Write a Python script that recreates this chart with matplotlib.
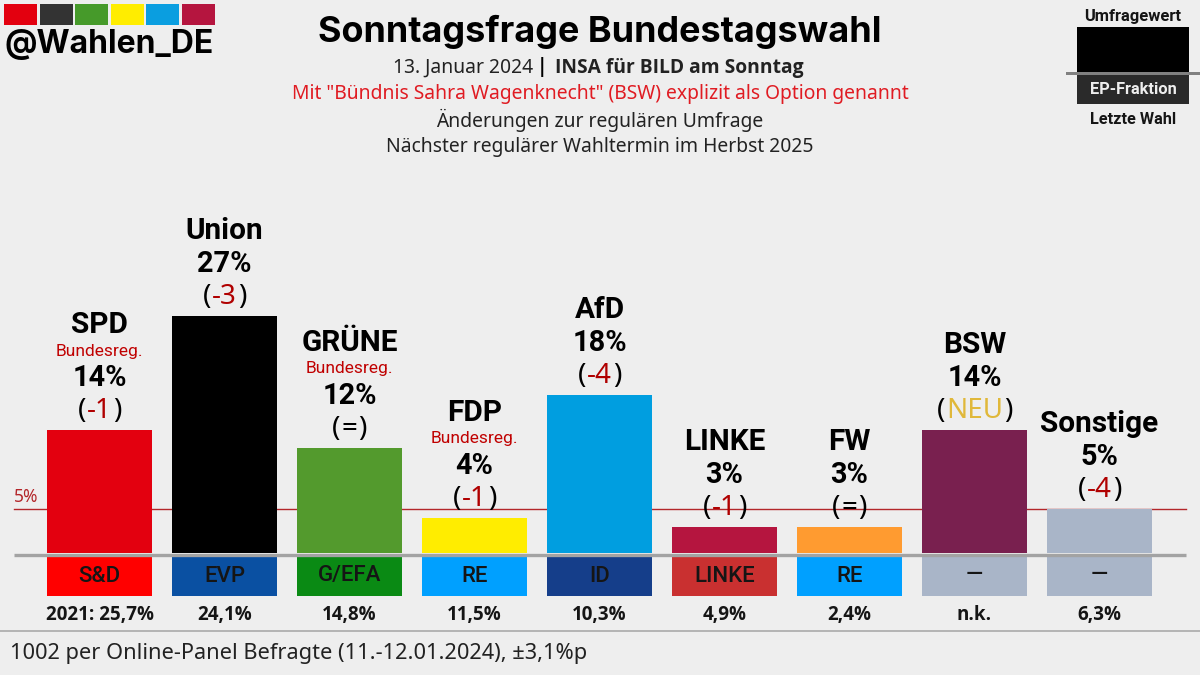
"""
Sonntagsfrage poll card, bars in percent on a full-figure axes,
all the decoration placed in pixel coords.
"""

import matplotlib
matplotlib.use("Agg")
import matplotlib.pyplot as plt
from matplotlib.patches import Rectangle

W, H = 1200, 675

parties = ["SPD", "Union", "GRÜNE", "FDP", "AfD", "LINKE", "FW", "BSW", "Sonstige"]
values = [14, 27, 12, 4, 18, 3, 3, 14, 5]
changes = ["-1", "-3", "=", "-1", "-4", "-1", "=", "NEU", "-4"]
govt = ["SPD", "GRÜNE", "FDP"]
bar_colors = ["#e3000f", "#000000", "#539a2d", "#ffed00", "#009ee0",
              "#b5153f", "#ff9b30", "#79204f", "#a9b5c8"]
ep_groups = ["S&D", "EVP", "G/EFA", "RE", "ID", "LINKE", "RE", "—", "—"]
ep_colors = ["#ff0000", "#0a50a2", "#0a8a14", "#00a0ff", "#153e8a",
             "#c93030", "#00a0ff", "#a9b5c8", "#a9b5c8"]
last_vote = ["2021: 25,7%", "24,1%", "14,8%", "11,5%", "10,3%", "4,9%", "2,4%", "n.k.", "6,3%"]
logo_colors = ["#e3000f", "#333333", "#469a2a", "#ffed00", "#0a9ee0", "#b5153f"]

THRESHOLD = 5

BG = "#eeeeee"
RED = "#e01b22"
DARKRED = "#b00000"
GOLD = "#e0b83a"
GREY = "#a3a3a3"

PX_PER_PCT = 8.76
BASE_Y = 553
BASE_X = 99.5
EP_TOP = 556
EP_BOTTOM = 596

HEAD = "Inter"
BODY = "Noto Sans"
BOLD = "Open Sans"
LABEL = "Roboto"

plt.rcParams["font.family"] = BODY

fig = plt.figure(figsize=(W / 100, H / 100), dpi=100, facecolor=BG)

# data axes spans whole figure: x = party index, y = percent
ax = fig.add_axes([0, 0, 1, 1])
ax.set_facecolor(BG)
ax.set_xlim(-BASE_X / 125, (W - BASE_X) / 125)
ax.set_ylim(-(H - BASE_Y) / PX_PER_PCT, BASE_Y / PX_PER_PCT)
ax.axis("off")


def px_text(x, y, s, size, color="black", weight="normal", family=BODY, ha="center"):
    return fig.text(x / W, 1 - y / H, s, fontsize=size, color=color, weight=weight,
                    family=family, ha=ha, va="center")


def px_rect(x0, y0, x1, y1, color, zorder=1):
    fig.add_artist(Rectangle((x0 / W, 1 - y1 / H), (x1 - x0) / W, (y1 - y0) / H,
                             transform=fig.transFigure, facecolor=color,
                             edgecolor="none", zorder=zorder))


# threshold + bars
line_x = [(14 - BASE_X) / 125, (1186 - BASE_X) / 125]
ax.plot(line_x, [THRESHOLD, THRESHOLD], color="#b3262a", lw=1.0, zorder=1)
xs = list(range(len(parties)))
ax.bar(xs, values, width=105 / 125, color=bar_colors, zorder=2)
ep_h = (EP_BOTTOM - EP_TOP) / PX_PER_PCT
ep_b = -(EP_BOTTOM - BASE_Y) / PX_PER_PCT
ax.bar(xs, [ep_h] * len(xs), bottom=ep_b, width=105 / 125, color=ep_colors, zorder=2)
ax.plot(line_x, [-1.5 / PX_PER_PCT] * 2, color=GREY, lw=2.4, zorder=3,
        solid_capstyle="butt")

px_text(14, 497, f"{THRESHOLD}%", 12.5, color="#b3262a", ha="left")

fig.canvas.draw()
rend = fig.canvas.get_renderer()

for i, name in enumerate(parties):
    cx = BASE_X + 125 * i
    top = BASE_Y - values[i] * PX_PER_PCT
    px_text(cx, top - 52, f"{values[i]}%", 20.8, weight="bold", family=LABEL)
    if name in govt:
        px_text(cx, top - 79, "Bundesreg.", 12.5, color="#c00000", family=LABEL)
        px_text(cx, top - 105, name, 21.4, weight="bold", family=LABEL)
    else:
        px_text(cx, top - 85, name, 21.4, weight="bold", family=LABEL)

    # change line: black brackets, coloured inner part
    ch = changes[i]
    col = "black" if ch == "=" else (GOLD if ch == "NEU" else DARKRED)
    mid = px_text(cx, top - 19, ch, 20, color=col)
    half = mid.get_window_extent(rend).width / 2
    px_text(cx - half - 1, top - 19, "(", 20, ha="right")
    px_text(cx + half + 1, top - 19, ")", 20, ha="left")

    px_text(cx, 576, ep_groups[i], 16, color="#151515", weight="medium", family=LABEL)
    px_text(cx, 615, last_vote[i], 13.5, weight="bold", color="#151515", family=BOLD)

# header
px_text(600, 32, "Sonntagsfrage Bundestagswahl", 25.9, weight="bold", family=HEAD)
px_text(393, 68, "13. Januar 2024", 13.9, color="#222222", ha="left")
px_text(542, 67, "|", 13.9, weight="bold", family=BOLD)
px_text(555, 68, "INSA für BILD am Sonntag", 13.9, weight="bold", color="#222222",
        family=BOLD, ha="left")
px_text(600, 94, 'Mit "Bündnis Sahra Wagenknecht" (BSW) explizit als Option genannt', 13.9, color=RED)
px_text(600, 120, "Änderungen zur regulären Umfrage", 13.9, color="#222222")
px_text(600, 147, "Nächster regulärer Wahltermin im Herbst 2025", 13.9, color="#222222")

# logo
for i, c in enumerate(logo_colors):
    x0 = 4 + i * 35.6
    px_rect(x0, 4, x0 + 33, 25, c)
px_text(5, 44, "@Wahlen_DE", 23, weight="bold", family=HEAD, ha="left")

# legend box
px_text(1133, 17, "Umfragewert", 11.9, weight="bold", family=LABEL, color="#151515")
px_rect(1077, 27, 1189, 73, "#000000")
px_rect(1077, 75, 1189, 104, "#2a2a2a")
px_rect(1066, 72, 1200, 75, "#808080", zorder=2)
px_text(1133, 89, "EP-Fraktion", 11.8, weight="bold", family=LABEL, color="#eeeeee")
px_text(1133, 120, "Letzte Wahl", 11.7, weight="bold", family=LABEL, color="#151515")

# footer
px_rect(0, 630, W, 632, "#b5b5b5")
px_text(10, 654, "1002 per Online-Panel Befragte (11.-12.01.2024), ±3,1%p", 15.65, color="#222222", ha="left")

fig.savefig("out.png", dpi=100, facecolor=BG)
